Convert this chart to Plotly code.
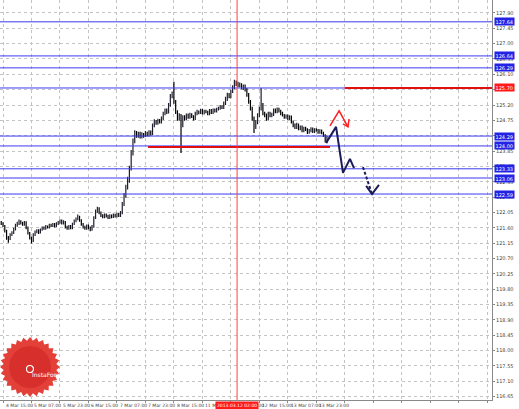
import math
import plotly.graph_objects as go

# ---------------- data ----------------
bar_index = list(range(-1, 183))  # hourly bars, 0 = 4 Mar 15:00

opens = [
    121.75, 121.72, 121.65, 121.50, 121.30, 121.28, 121.40, 121.45,
    121.55, 121.68, 121.72, 121.78, 121.74, 121.70, 121.76, 121.60,
    121.45, 121.30, 121.22, 121.40, 121.48, 121.52, 121.46, 121.55,
    121.60, 121.58, 121.64, 121.62, 121.68, 121.66, 121.70, 121.65,
    121.72, 121.76, 121.80, 121.74, 121.78, 121.62, 121.58, 121.64,
    121.60, 121.72, 121.80, 121.86, 121.92, 121.82, 121.70, 121.62,
    121.58, 121.66, 121.60, 121.55, 121.64, 121.90, 122.10, 122.16,
    122.05, 121.96, 121.92, 121.98, 121.94, 121.90, 121.96, 121.92,
    121.98, 121.94, 122.00, 121.96, 122.05, 122.30, 122.55, 122.80,
    123.00, 123.35, 123.80, 124.15, 124.38, 124.30, 124.36, 124.28,
    124.34, 124.30, 124.38, 124.32, 124.40, 124.36, 124.60, 124.72,
    124.68, 124.75, 124.70, 124.80, 124.95, 125.05, 125.00, 125.20,
    125.45, 125.55, 125.30, 125.00, 124.80, 124.90, 124.60, 124.85,
    124.80, 124.90, 124.84, 124.92, 124.86, 124.80, 124.95, 125.00,
    124.98, 125.05, 124.96, 125.02, 125.00, 124.94, 125.04, 124.98,
    125.06, 125.02, 125.08, 125.10, 125.15, 125.12, 125.25, 125.38,
    125.50, 125.45, 125.60, 125.72, 125.86, 125.82, 125.78, 125.80,
    125.70, 125.75, 125.66, 125.50, 125.30, 125.10, 124.80, 124.55,
    124.70, 124.90, 125.10, 125.20, 124.95, 124.90, 124.80, 124.95,
    124.88, 124.92, 125.05, 125.00, 125.08, 125.02, 124.95, 124.90,
    124.85, 124.88, 124.80, 124.85, 124.70, 124.60, 124.55, 124.62,
    124.50, 124.55, 124.45, 124.52, 124.48, 124.40, 124.45, 124.50,
    124.42, 124.48, 124.46, 124.40, 124.45, 124.38, 124.30, 124.15,
]
highs = [
    121.80, 121.76, 121.68, 121.54, 121.36, 121.44, 121.50, 121.60,
    121.72, 121.78, 121.84, 121.82, 121.78, 121.80, 121.79, 121.64,
    121.48, 121.34, 121.44, 121.52, 121.56, 121.56, 121.58, 121.64,
    121.64, 121.68, 121.67, 121.72, 121.72, 121.74, 121.74, 121.76,
    121.80, 121.84, 121.84, 121.82, 121.80, 121.66, 121.68, 121.68,
    121.75, 121.84, 121.90, 121.99, 121.95, 121.85, 121.74, 121.66,
    121.70, 121.70, 121.64, 121.68, 121.94, 122.14, 122.22, 122.20,
    122.08, 122.00, 122.02, 122.02, 121.98, 122.00, 121.99, 122.02,
    122.01, 122.04, 122.04, 122.09, 122.36, 122.62, 122.86, 123.10,
    123.42, 123.88, 124.22, 124.46, 124.44, 124.42, 124.42, 124.40,
    124.38, 124.44, 124.42, 124.46, 124.45, 124.66, 124.78, 124.76,
    124.80, 124.79, 124.86, 125.00, 125.10, 125.10, 125.26, 125.52,
    125.60, 125.88, 125.35, 125.05, 124.96, 124.94, 124.90, 124.90,
    124.95, 124.95, 124.97, 124.96, 124.90, 125.00, 125.06, 125.04,
    125.09, 125.08, 125.06, 125.06, 125.03, 125.08, 125.08, 125.10,
    125.10, 125.12, 125.15, 125.20, 125.19, 125.30, 125.44, 125.56,
    125.55, 125.65, 125.78, 125.94, 125.92, 125.88, 125.86, 125.84,
    125.80, 125.80, 125.70, 125.55, 125.35, 125.15, 124.86, 124.76,
    124.96, 125.16, 125.70, 125.26, 125.00, 124.95, 125.00, 125.00,
    124.97, 125.10, 125.10, 125.13, 125.12, 125.06, 125.00, 124.94,
    124.92, 124.92, 124.90, 124.89, 124.75, 124.66, 124.68, 124.66,
    124.60, 124.60, 124.56, 124.56, 124.52, 124.50, 124.55, 124.54,
    124.52, 124.52, 124.50, 124.49, 124.48, 124.42, 124.34, 124.30,
]
lows = [
    121.68, 121.62, 121.46, 121.25, 121.16, 121.24, 121.36, 121.42,
    121.52, 121.63, 121.68, 121.70, 121.66, 121.66, 121.56, 121.40,
    121.26, 121.14, 121.18, 121.36, 121.44, 121.42, 121.43, 121.51,
    121.54, 121.54, 121.58, 121.58, 121.62, 121.62, 121.61, 121.62,
    121.68, 121.72, 121.70, 121.70, 121.58, 121.54, 121.54, 121.56,
    121.56, 121.68, 121.76, 121.82, 121.78, 121.66, 121.58, 121.54,
    121.54, 121.56, 121.50, 121.51, 121.60, 121.86, 122.04, 122.00,
    121.92, 121.88, 121.88, 121.90, 121.86, 121.86, 121.88, 121.89,
    121.90, 121.90, 121.92, 121.92, 122.00, 122.24, 122.48, 122.72,
    122.92, 123.28, 123.72, 124.08, 124.24, 124.24, 124.22, 124.22,
    124.24, 124.26, 124.28, 124.28, 124.31, 124.32, 124.55, 124.62,
    124.62, 124.66, 124.66, 124.76, 124.90, 124.94, 124.95, 125.15,
    125.40, 125.24, 124.94, 124.74, 124.74, 123.79, 124.55, 124.74,
    124.76, 124.80, 124.80, 124.82, 124.75, 124.76, 124.90, 124.93,
    124.94, 124.92, 124.92, 124.96, 124.90, 124.90, 124.94, 124.94,
    124.98, 124.98, 125.04, 125.06, 125.08, 125.08, 125.20, 125.32,
    125.40, 125.40, 125.55, 125.66, 125.76, 125.72, 125.72, 125.66,
    125.64, 125.60, 125.44, 125.24, 125.04, 124.74, 124.38, 124.50,
    124.64, 124.84, 125.04, 124.90, 124.84, 124.74, 124.75, 124.84,
    124.84, 124.88, 124.96, 124.96, 124.98, 124.90, 124.86, 124.80,
    124.80, 124.76, 124.76, 124.66, 124.55, 124.50, 124.50, 124.46,
    124.46, 124.40, 124.40, 124.44, 124.35, 124.36, 124.40, 124.38,
    124.38, 124.42, 124.36, 124.36, 124.34, 124.26, 124.10, 124.08,
]
closes = [
    121.72, 121.65, 121.50, 121.30, 121.28, 121.40, 121.45, 121.55,
    121.68, 121.72, 121.78, 121.74, 121.70, 121.76, 121.60, 121.45,
    121.30, 121.22, 121.40, 121.48, 121.52, 121.46, 121.55, 121.60,
    121.58, 121.64, 121.62, 121.68, 121.66, 121.70, 121.65, 121.72,
    121.76, 121.80, 121.74, 121.78, 121.62, 121.58, 121.64, 121.60,
    121.72, 121.80, 121.86, 121.92, 121.82, 121.70, 121.62, 121.58,
    121.66, 121.60, 121.55, 121.64, 121.90, 122.10, 122.16, 122.05,
    121.96, 121.92, 121.98, 121.94, 121.90, 121.96, 121.92, 121.98,
    121.94, 122.00, 121.96, 122.05, 122.30, 122.55, 122.80, 123.00,
    123.35, 123.80, 124.15, 124.38, 124.30, 124.36, 124.28, 124.34,
    124.30, 124.38, 124.32, 124.40, 124.36, 124.60, 124.72, 124.68,
    124.75, 124.70, 124.80, 124.95, 125.05, 125.00, 125.20, 125.45,
    125.55, 125.30, 125.00, 124.80, 124.90, 124.60, 124.85, 124.80,
    124.90, 124.84, 124.92, 124.86, 124.80, 124.95, 125.00, 124.98,
    125.05, 124.96, 125.02, 125.00, 124.94, 125.04, 124.98, 125.06,
    125.02, 125.08, 125.10, 125.15, 125.12, 125.25, 125.38, 125.50,
    125.45, 125.60, 125.72, 125.86, 125.82, 125.78, 125.80, 125.70,
    125.75, 125.66, 125.50, 125.30, 125.10, 124.80, 124.55, 124.70,
    124.90, 125.10, 125.20, 124.95, 124.90, 124.80, 124.95, 124.88,
    124.92, 125.05, 125.00, 125.08, 125.02, 124.95, 124.90, 124.85,
    124.88, 124.80, 124.85, 124.70, 124.60, 124.55, 124.62, 124.50,
    124.55, 124.45, 124.52, 124.48, 124.40, 124.45, 124.50, 124.42,
    124.48, 124.46, 124.40, 124.45, 124.38, 124.30, 124.15, 124.25,
]

y_tick_vals = [127.90, 127.45, 127.00, 126.55, 126.10, 125.65, 125.20, 124.75,
               124.30, 123.85, 123.40, 122.95, 122.50, 122.05, 121.60, 121.15,
               120.70, 120.25, 119.80, 119.35, 118.90, 118.45, 118.00, 117.55,
               117.10, 116.65]
y_tick_text = ["%.2f" % v for v in y_tick_vals]

x_tick_bars = [0, 16, 32, 48, 64, 80, 96, 112, 128, 144, 160, 176]
x_tick_labels = ["4 Mar 15:00", "5 Mar 07:00", "5 Mar 23:00", "6 Mar 15:00",
                 "7 Mar 07:00", "7 Mar 23:00", "8 Mar 15:00", "11 Mar 07:00",
                 "11 Mar 23:00", "12 Mar 15:00", "13 Mar 07:00", "13 Mar 23:00"]

blue_levels = [127.64, 126.64, 126.29, 125.70, 124.29, 124.00, 123.33, 123.06, 122.59]
red_label_level = 125.70

red_seg_1_x = [81.5, 183.7]
red_seg_1_y = [123.97, 123.97]
red_seg_2_x = [192.0, 275.0]
red_seg_2_y = [125.70, 125.70]

cursor_bar = 131.5
cursor_label = "2013.03.12 02:00"

# forecast arrows (bar index, price)
red_arrow_x = [183.7, 188.8, 193.8]
red_arrow_y = [124.59, 125.03, 124.56]
red_head_x = [191.0, 193.8, 194.4]
red_head_y = [124.65, 124.56, 124.79]

navy_path_x = [181.5, 187.1, 191.0, 194.9, 197.2]
navy_path_y = [124.09, 124.56, 123.21, 123.62, 123.35]
navy_dash_x = [202.2, 207.3]
navy_dash_y = [123.38, 122.59]
navy_head_x = [204.0, 207.3, 211.2]
navy_head_y = [122.83, 122.59, 122.86]

# ---------------- figure ----------------
X_RANGE = [-1.69, 274.7]
Y_RANGE = [116.55, 128.28]
PLOT_W, PLOT_H = 492, 400

fig = go.Figure()

for lv in blue_levels:
    fig.add_trace(go.Scatter(x=X_RANGE, y=[lv, lv], mode="lines",
                             line=dict(color="#3b3bf0", width=1),
                             hoverinfo="skip", showlegend=False))

fig.add_trace(go.Scatter(x=red_seg_1_x, y=red_seg_1_y, mode="lines",
                         line=dict(color="#e01010", width=2), hoverinfo="skip"))
fig.add_trace(go.Scatter(x=red_seg_2_x, y=red_seg_2_y, mode="lines",
                         line=dict(color="#e01010", width=2), hoverinfo="skip"))

fig.add_trace(go.Ohlc(
    x=bar_index, open=opens, high=highs, low=lows, close=closes,
    increasing=dict(line=dict(color="#1e1e2e", width=1.2)),
    decreasing=dict(line=dict(color="#000000", width=1.2)),
    tickwidth=0.3, hoverinfo="skip", showlegend=False))

fig.add_trace(go.Scatter(x=red_arrow_x, y=red_arrow_y, mode="lines",
                         line=dict(color="#ff2020", width=1.5), hoverinfo="skip"))
fig.add_trace(go.Scatter(x=red_head_x, y=red_head_y, mode="lines",
                         line=dict(color="#ff2020", width=1.5), hoverinfo="skip"))
fig.add_trace(go.Scatter(x=navy_path_x, y=navy_path_y, mode="lines",
                         line=dict(color="#1c1c5a", width=2), hoverinfo="skip"))
fig.add_trace(go.Scatter(x=navy_dash_x, y=navy_dash_y, mode="lines",
                         line=dict(color="#1c1c5a", width=2, dash="3px,2px"),
                         hoverinfo="skip"))
fig.add_trace(go.Scatter(x=navy_head_x, y=navy_head_y, mode="lines",
                         line=dict(color="#1c1c5a", width=2), hoverinfo="skip"))

shapes = []
# red cursor vertical line
shapes.append(dict(type="line", xref="x", yref="paper", x0=cursor_bar, x1=cursor_bar,
                   y0=0, y1=1, line=dict(color="#ff4040", width=1), layer="above"))

# InstaForex starburst logo (decoration)
cx, cy, r_out, r_in, n = 30, 367, 30, 26.5, 28
pts = []
for k in range(2 * n):
    ang = math.pi * k / n
    r = r_out if k % 2 == 0 else r_in
    px = cx + r * math.cos(ang)
    py = cy + r * math.sin(ang)
    pts.append((px / PLOT_W, 1 - py / PLOT_H))
path = "M " + " L ".join("%.5f,%.5f" % p for p in pts) + " Z"
shapes.append(dict(type="path", xref="paper", yref="paper", path=path,
                   fillcolor="#e4403a", line=dict(width=0), layer="above"))
rr = 21
shapes.append(dict(type="circle", xref="paper", yref="paper",
                   x0=(cx - rr) / PLOT_W, x1=(cx + rr) / PLOT_W,
                   y0=1 - (cy + rr) / PLOT_H, y1=1 - (cy - rr) / PLOT_H,
                   fillcolor="#d7302c", line=dict(width=0), layer="above"))
ri = 3.5
shapes.append(dict(type="circle", xref="paper", yref="paper",
                   x0=(cx - ri) / PLOT_W, x1=(cx + ri) / PLOT_W,
                   y0=1 - (cy + 2 + ri) / PLOT_H, y1=1 - (cy + 2 - ri) / PLOT_H,
                   fillcolor="rgba(0,0,0,0)", line=dict(width=1.2, color="white"),
                   layer="above"))

annotations = []
for b, t in zip(x_tick_bars, x_tick_labels):
    annotations.append(dict(x=b, y=0, xref="x", yref="paper", text=t,
                            showarrow=False, xanchor="left", yanchor="top",
                            xshift=1, yshift=-1,
                            font=dict(size=4.5, color="#444444", family="DejaVu Sans")))
annotations.append(dict(x=cursor_bar, y=0, xref="x", yref="paper", text=cursor_label,
                        showarrow=False, xanchor="center", yanchor="top", yshift=-1,
                        bgcolor="#ff1a1a", borderpad=1,
                        font=dict(size=4.5, color="white", family="DejaVu Sans")))
for lv in blue_levels:
    annotations.append(dict(x=1, y=lv, xref="paper", yref="y", text="%.2f" % lv,
                            showarrow=False, xanchor="left", yanchor="middle",
                            xshift=2, bgcolor="#ff1a1a" if lv == red_label_level else "#2323e6",
                            borderpad=0.5,
                            font=dict(size=5, color="white", family="DejaVu Sans")))
annotations.append(dict(x=cx / PLOT_W, y=1 - (cy + 13) / PLOT_H, xref="paper",
                        yref="paper", text="InstaForex", showarrow=False,
                        font=dict(size=6, color="white", family="DejaVu Sans")))

fig.update_layout(
    width=519, height=409,
    margin=dict(l=0, r=27, t=0, b=9),
    paper_bgcolor="white", plot_bgcolor="white",
    showlegend=False,
    shapes=shapes, annotations=annotations,
    xaxis=dict(range=X_RANGE, rangeslider=dict(visible=False),
               tickvals=list(range(0, 275, 16)), showticklabels=False,
               showgrid=True, gridcolor="#c4c4c4", griddash="dot", gridwidth=1,
               showline=True, linecolor="#8a8a8a", linewidth=1,
               ticks="outside", ticklen=2, tickcolor="#8a8a8a", zeroline=False),
    yaxis=dict(range=Y_RANGE, side="right", tickvals=y_tick_vals, ticktext=y_tick_text,
               showgrid=True, gridcolor="#c4c4c4", griddash="dot", gridwidth=1,
               showline=True, linecolor="#8a8a8a", linewidth=1,
               ticks="outside", ticklen=2, tickcolor="#8a8a8a", zeroline=False,
               tickfont=dict(size=5, color="#444444", family="DejaVu Sans")),
)

fig.write_html("out.html", config={"displayModeBar": False},
               post_script="document.body.style.margin='0px';document.body.style.overflow='hidden';")
